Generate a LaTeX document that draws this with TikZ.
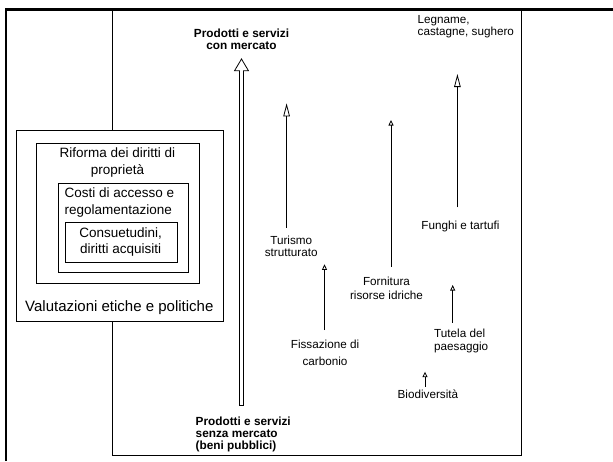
\documentclass[tikz,border=0pt]{standalone}
\usepackage{fontspec}
\setmainfont{Liberation Sans}
\usetikzlibrary{arrows.meta}
\begin{document}
\begin{tikzpicture}[x=1pt,y=-1pt,
  frame/.style={line width=2.2pt, line join=miter},
  panel/.style={line width=0.9pt},
  boxframe/.style={draw, line width=0.9pt, anchor=north west, inner sep=0pt},
  boxtxt/.style={font=\fontsize{13.5}{16.5}\selectfont, inner sep=0pt},
  lbl/.style={font=\fontsize{11.7}{12}\selectfont, inner sep=0pt, align=center},
  hdr/.style={font=\fontsize{11.8}{11.7}\selectfont\bfseries, inner sep=0pt},
  flowbig/.style={line width=0.8pt, -{Triangle[open, length=13pt, width=6.5pt]}},
  flowsmall/.style={line width=0.8pt, -{Triangle[open, length=5.5pt, width=5pt]}},
  hollow/.style={draw, fill=white, line width=0.8pt, line join=miter}
]
\useasboundingbox (0,0) rectangle (613,461);

% outer frame (open at right and bottom)
\draw[frame] (5.7,461) -- (5.7,9.5) -- (613,9.5);

% nested boxes on the left
\node[boxframe, minimum width=206.4pt, minimum height=190.7pt] (valut) at (16.4,130) {};
\node[boxframe, minimum width=163.4pt, minimum height=140.6pt] (rif) at (36,142.7) {};
\node[boxframe, minimum width=130.5pt, minimum height=89pt] (cost) at (57.9,182.7) {};
\node[boxframe, minimum width=112.5pt, minimum height=40pt] (cons) at (64.5,221.7) {};

\node[boxtxt, align=center] (rifT) at (117.5,162.3) {Riforma dei diritti di\\proprietà};
\node[boxtxt, align=left, anchor=west] (costT) at (64.5,202.6) {Costi di accesso e\\regolamentazione};
\node[boxtxt, align=center] (consT) at (120.6,242) {Consuetudini,\\diritti acquisiti};
\node[font=\fontsize{15}{18}\selectfont, inner sep=0pt] (valutT) at (119.3,308) {Valutazioni etiche e politiche};

% right panel, split by the left box
\coordinate (pTL) at (112.5,9.5);
\coordinate (pBL) at (112.5,455);
\coordinate (pBR) at (521.7,455);
\coordinate (pTR) at (521.7,9.5);
\draw[panel] (pTL) -- (pTL |- valut.north);
\draw[panel] (pBL |- valut.south) -- (pBL) -- (pBR) -- (pTR);

% headings of the main axis
\node[hdr, align=center] (mkt) at (241.5,39.2) {Prodotti e servizi\\con mercato};
\node[hdr, align=left, anchor=west] (nomkt) at (195.5,434.3) {Prodotti e servizi\\senza mercato\\(beni pubblici)};

% main hollow arrow
\coordinate (axB) at (241.4,405.5);
\coordinate (axT) at (241.5,59);
\draw[hollow] ([xshift=-2pt]axB) -- ([xshift=-2pt]axB |- 0,70.8) -- (234.5,70.8) -- (axT)
  -- (248.5,70.8) -- ([xshift=2pt]axB |- 0,70.8) -- ([xshift=2pt]axB) -- cycle;

% goods and services
\node[lbl, align=left, anchor=west] (leg) at (417.5,26.9) {Legname,\\castagne, sughero};
\node[lbl] (tur) at (291.2,246.3) {Turismo\\strutturato};
\node[lbl, font=\fontsize{11.7}{17}\selectfont] (fiss) at (325,352.5) {Fissazione di\\carbonio};
\node[lbl, font=\fontsize{11.7}{14}\selectfont] (forn) at (386.5,288.2) {Fornitura\\risorse idriche};
\node[lbl] (fung) at (460.4,226) {Funghi e tartufi};
\node[lbl, align=left, anchor=west, font=\fontsize{11.7}{13}\selectfont] (tut) at (434,341) {Tutela del\\paesaggio};
\node[lbl] (bio) at (427.9,394.5) {Biodiversità};

% value arrows
\coordinate (turA) at (286.6,227.7);  \coordinate (turB) at (286.6,103.3);
\coordinate (legA) at (457.4,207.3);  \coordinate (legB) at (457.4,74);
\coordinate (fisA) at (324.5,330);    \coordinate (fisB) at (324.5,264.3);
\coordinate (forA) at (391,266.7);    \coordinate (forB) at (391,120);
\coordinate (tutA) at (452.7,322.7);  \coordinate (tutB) at (452.7,285);
\coordinate (bioA) at (425,386.7);    \coordinate (bioB) at (425,371.7);

\draw[flowbig] (turA) -- (turB);
\draw[flowbig] (legA) -- (legB);
\draw[flowsmall] (fisA) -- (fisB);
\draw[flowsmall] (forA) -- (forB);
\draw[flowsmall] (tutA) -- (tutB);
\draw[flowsmall] (bioA) -- (bioB);
\end{tikzpicture}
\end{document}
